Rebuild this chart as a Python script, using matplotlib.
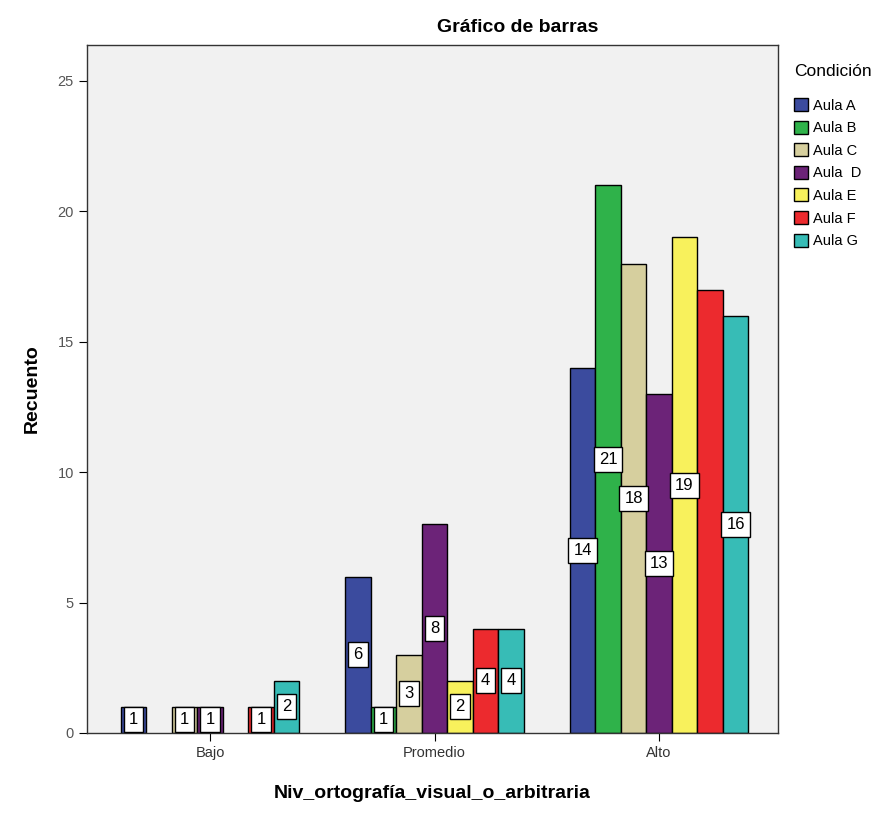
import numpy as np
import matplotlib.pyplot as plt
from matplotlib.patches import Patch

niveles = ['Bajo', 'Promedio', 'Alto']
aulas = ['Aula A', 'Aula B', 'Aula C', 'Aula  D', 'Aula E', 'Aula F', 'Aula G']
colores = ['#3b4b9e', '#2fb24a', '#d6cf9e', '#6c2378', '#f8f15c', '#ec2a2e', '#37bcb6']

# recuento por aula (filas) y nivel (columnas)
aula_a = [1, 6, 14]
aula_b = [0, 1, 21]
aula_c = [1, 3, 18]
aula_d = [1, 8, 13]
aula_e = [0, 2, 19]
aula_f = [1, 4, 17]
aula_g = [2, 4, 16]
conteos = [aula_a, aula_b, aula_c, aula_d, aula_e, aula_f, aula_g]

# etiquetas que no se muestran (aula, nivel)
sin_etiqueta = [(5, 2)]

plt.rcParams['font.family'] = ['Liberation Sans', 'DejaVu Sans']

fig = plt.figure(figsize=(8.96, 8.14), dpi=100)
ax = fig.add_axes([87 / 896, 1 - 733 / 814, (778 - 87) / 896, (733 - 45) / 814])
ax.set_facecolor('#f1f1f1')

x = np.arange(len(niveles))
ancho = 0.1136
for i, (vals, col) in enumerate(zip(conteos, colores)):
    pos = x + (i - 3) * ancho
    for j, (p, v) in enumerate(zip(pos, vals)):
        if v == 0:
            continue
        ax.bar(p, v, width=ancho, color=col, edgecolor='black', linewidth=1.0, zorder=2)
        if (i, j) in sin_etiqueta:
            continue
        ax.text(p, v / 2, str(v), ha='center', va='center', fontsize=12, zorder=3,
                bbox=dict(boxstyle='square,pad=0.3', fc='white', ec='black', lw=1.0))

ax.set_xlim(-0.548, 2.53)
ax.set_ylim(0, 26.38)
ax.set_xticks(x)
ax.set_xticklabels(niveles, fontsize=10.5, color='#333333')
ax.set_yticks([0, 5, 10, 15, 20, 25])
ax.tick_params(axis='y', labelsize=10.5, labelcolor='#555555', length=6)
ax.tick_params(axis='x', length=6)
for s in ax.spines.values():
    s.set_linewidth(1.0)
    s.set_color('#333333')

ax.set_xlabel('Niv_ortografía_visual_o_arbitraria', fontsize=14, fontweight='bold', labelpad=18)
ax.set_ylabel('Recuento', fontsize=14, fontweight='bold', labelpad=12)
fig.text(518 / 896, 1 - 28 / 814, 'Gráfico de barras', fontsize=14, fontweight='bold',
         ha='center', va='center')

handles = [Patch(facecolor=c, edgecolor='black', linewidth=1.0) for c in colores]
leg = fig.legend(handles, aulas, loc='upper left', bbox_to_anchor=(788 / 896, 1 - 58 / 814),
                 title='Condición', frameon=False, fontsize=10.5, title_fontsize=12.5,
                 handlelength=1.0, handleheight=1.0, handletextpad=0.3, labelspacing=0.55,
                 borderaxespad=0)
leg._legend_box.align = 'left'
leg._legend_box.sep = 14

fig.savefig('out.png', dpi=100)
